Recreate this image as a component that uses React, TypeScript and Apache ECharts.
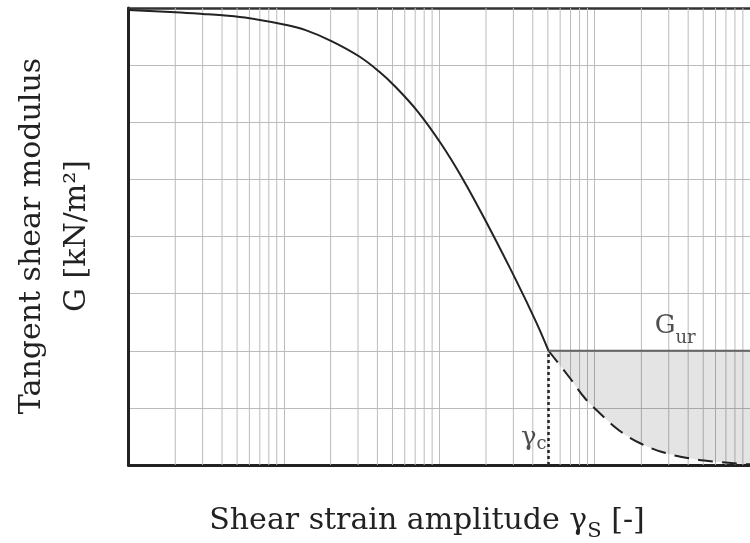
import React, { useEffect, useRef } from "react";
import * as echarts from "echarts";

// Solid part of the tangent shear modulus curve (strain, G)
const solidStrain = [1e-6, 2e-6, 3e-6, 4.03e-6, 6.01e-6, 1e-5, 1.38e-5, 2.04e-5, 3.06e-5, 4.1e-5, 5.14e-5, 7.21e-5, 1.03e-4, 1.42e-4, 2.07e-4, 3.13e-4, 4.19e-4, 5.05e-4];
const solidG = [7.965, 7.926, 7.897, 7.872, 7.82, 7.711, 7.613, 7.417, 7.151, 6.888, 6.64, 6.199, 5.619, 5.003, 4.184, 3.228, 2.51, 2.0];

// Dashed continuation beyond gamma_c
const dashStrain = [5.05e-4, 6.93e-4, 8.64e-4, 1.11e-3, 1.44e-3, 1.98e-3, 2.86e-3, 4.13e-3, 6.25e-3, 9.02e-3, 1e-2];
const dashG = [2.0, 1.523, 1.173, 0.875, 0.604, 0.376, 0.21, 0.114, 0.053, 0.018, 0.012];

// Unloading/reloading modulus level and threshold strain
const gammaC = 5.05e-4;
const gUr = 2.0;
const strainStart = 1e-6;
const strainEnd = 1e-2;
const gMax = 8;

// Log grid decades and minor multipliers
const decades = [1e-6, 1e-5, 1e-4, 1e-3];
const minorMult = [2, 3, 4, 5, 6, 7, 8, 9];

// Label anchor points
const gurLabelStrain = 3.3e-3;
const gammaLabelG = 0.5;

export default function App() {
  const ref = useRef<HTMLDivElement>(null);
  useEffect(() => {
    if (!ref.current) return;
    const chart = echarts.init(ref.current, null, { renderer: "svg" });
    const serif = "DejaVu Serif";
    const minorValues: number[][] = [];
    decades.forEach((d) => minorMult.forEach((m) => minorValues.push([d * m, 0])));

    chart.setOption({
      animation: false,
      grid: { left: 128.5, right: -7, top: 8, bottom: 78, containLabel: false },
      xAxis: [
        {
          type: "log",
          logBase: 10,
          min: strainStart,
          max: strainEnd,
          axisLabel: { show: false },
          axisTick: { show: false },
          axisLine: { show: true, onZero: false, lineStyle: { color: "#222", width: 3 } },
          splitLine: { show: true, lineStyle: { color: "#bbb", width: 1 } },
          minorTick: { show: false },
        },
        {
          type: "log",
          logBase: 10,
          min: strainStart,
          max: strainEnd,
          position: "top",
          axisLabel: { show: false },
          axisTick: { show: false },
          axisLine: { show: true, onZero: false, lineStyle: { color: "#333", width: 2.5 } },
          splitLine: { show: false },
        },
      ],
      yAxis: {
        type: "value",
        min: 0,
        max: gMax,
        interval: 1,
        axisLabel: { show: false },
        axisTick: { show: false },
        axisLine: { show: true, onZero: false, lineStyle: { color: "#222", width: 3 } },
        splitLine: { show: true, lineStyle: { color: "#bbb", width: 1 } },
      },
      graphic: [
        {
          type: "text",
          x: 52,
          y: 236,
          rotation: Math.PI / 2,
          style: {
            text: "Tangent shear modulus\nG [kN/m²]",
            font: `30px "${serif}"`,
            fill: "#222",
            align: "center",
            verticalAlign: "middle",
            lineHeight: 45,
          },
        },
        {
          type: "text",
          x: 427,
          y: 518,
          style: {
            text: "{m|Shear strain amplitude γ}{s|S}{m| [-]}",
            align: "center",
            verticalAlign: "middle",
            fill: "#222",
            rich: {
              m: { fontFamily: serif, fontSize: 30, lineHeight: 36, fill: "#222" },
              s: { fontFamily: serif, fontSize: 21, lineHeight: 44, verticalAlign: "bottom", fill: "#222" },
            },
          },
        },
      ],
      series: [
        {
          type: "custom",
          silent: true,
          z: 1,
          data: minorValues,
          encode: { x: 0, y: 1 },
          renderItem: (params: any, api: any) => {
            const v = api.value(0);
            const p0 = api.coord([v, 0]);
            const p1 = api.coord([v, gMax]);
            return {
              type: "line",
              shape: { x1: p0[0], y1: p0[1], x2: p1[0], y2: p1[1] },
              style: { stroke: "#bbb", lineWidth: 1 },
            };
          },
        },
        {
          type: "line",
          data: solidStrain.map((x, i) => [x, solidG[i]]),
          smooth: 0.4,
          symbol: "none",
          lineStyle: { color: "#222", width: 2 },
        },
        {
          type: "line",
          data: dashStrain.map((x, i) => [x, dashG[i]]),
          smooth: 0.4,
          symbol: "none",
          lineStyle: { color: "#222", width: 2, type: [15, 9] },
          areaStyle: { origin: gUr, color: "rgba(0,0,0,0.15)" },
        },
        {
          type: "line",
          data: [[gammaC, gUr], [strainEnd, gUr]],
          symbol: "none",
          lineStyle: { color: "#666", width: 2 },
        },
        {
          type: "line",
          data: [[gammaC, 0], [gammaC, gUr]],
          symbol: "none",
          lineStyle: { color: "#222", width: 2.5, type: [3, 3] },
        },
        {
          type: "scatter",
          symbolSize: 0,
          silent: true,
          data: [
            {
              value: [gurLabelStrain, gUr],
              label: {
                show: true,
                position: "top",
                distance: 5,
                formatter: "{g|G}{s|ur}",
                rich: {
                  g: { fontFamily: serif, fontSize: 26, lineHeight: 30, color: "#222" },
                  s: { fontFamily: serif, fontSize: 18, lineHeight: 43, verticalAlign: "bottom", color: "#222" },
                },
              },
            },
            {
              value: [gammaC, gammaLabelG],
              label: {
                show: true,
                position: "left",
                distance: 2,
                formatter: "{g|γ}{s|c}",
                rich: {
                  g: { fontFamily: serif, fontSize: 26, lineHeight: 30, color: "#222" },
                  s: { fontFamily: serif, fontSize: 18, lineHeight: 28, verticalAlign: "bottom", color: "#222" },
                },
              },
            },
          ],
        },
      ],
    });
    return () => chart.dispose();
  }, []);
  return <div ref={ref} style={{ position: "fixed", left: 0, top: 0, width: 750, height: 543 }} />;
}
